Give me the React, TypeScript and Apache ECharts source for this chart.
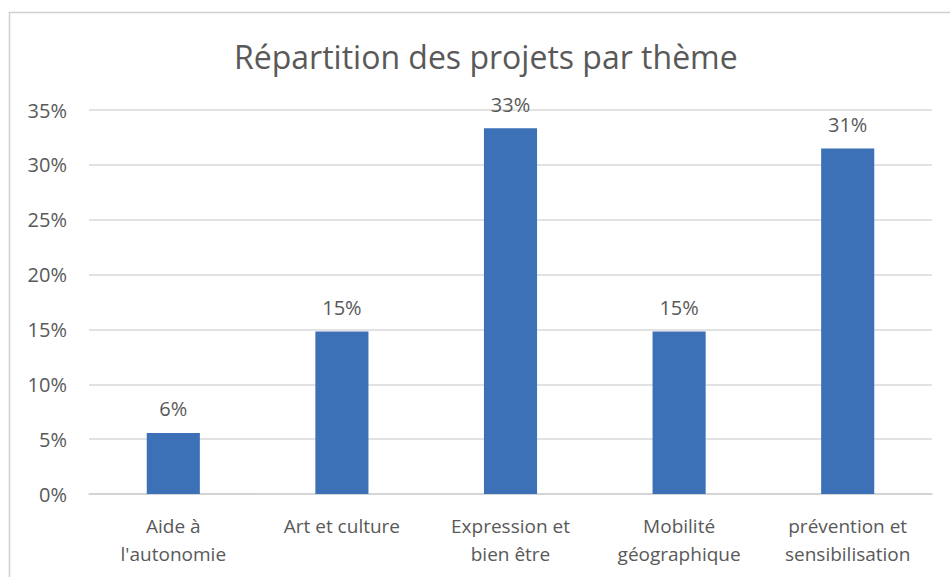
import React, { useEffect, useRef } from "react";
import * as echarts from "echarts";

const categories = [
  "Aide à\nl'autonomie",
  "Art et culture",
  "Expression et\nbien être",
  "Mobilité\ngéographique",
  "prévention et\nsensibilisation",
];
const values = [5.56, 14.81, 33.33, 14.81, 31.48];
const yTicks = { min: 0, max: 35, interval: 5 };
const title = "Répartition des projets par thème";

const FONT = "'Open Sans', 'Noto Sans', sans-serif";
const TEXT = "#595959";

export default function App() {
  const ref = useRef<HTMLDivElement>(null);
  useEffect(() => {
    if (!ref.current) return;
    const chart = echarts.init(ref.current, undefined, { renderer: "svg" });
    chart.setOption({
      animation: false,
      backgroundColor: "#ffffff",
      title: {
        text: title,
        left: 229,
        top: 35,
        textStyle: { fontFamily: FONT, fontSize: 32, fontWeight: "normal", color: TEXT },
      },
      graphic: [
        {
          type: "rect",
          shape: { x: 9.5, y: 12.5, width: 960, height: 600 },
          style: { fill: "none", stroke: "#d0d0d0", lineWidth: 1.5 },
          silent: true,
        },
      ],
      grid: { left: 89, right: 18, top: 110, bottom: 83 },
      xAxis: {
        type: "category",
        data: categories,
        axisLine: { lineStyle: { color: "#d0d0d0", width: 1.5 } },
        axisTick: { show: false },
        axisLabel: {
          fontFamily: FONT,
          fontSize: 19,
          color: TEXT,
          lineHeight: 28,
          margin: 18,
          interval: 0,
        },
      },
      yAxis: {
        type: "value",
        min: yTicks.min,
        max: yTicks.max,
        interval: yTicks.interval,
        axisLine: { show: false },
        axisTick: { show: false },
        splitLine: { lineStyle: { color: "#d9d9d9", width: 1.5 } },
        axisLabel: {
          fontFamily: FONT,
          fontSize: 20,
          color: TEXT,
          margin: 22,
          formatter: (v: number) => v + "%",
        },
      },
      series: [
        {
          type: "bar",
          data: values,
          barWidth: "31.5%",
          itemStyle: { color: "#3c71b8" },
          label: {
            show: true,
            position: "top",
            distance: 14,
            fontFamily: FONT,
            fontSize: 20,
            color: TEXT,
            formatter: (p: any) => Math.round(p.value) + "%",
          },
        },
      ],
    });
    return () => chart.dispose();
  }, []);
  return (
    <div
      ref={ref}
      style={{ position: "fixed", left: 0, top: 0, width: 950, height: 577 }}
    />
  );
}
